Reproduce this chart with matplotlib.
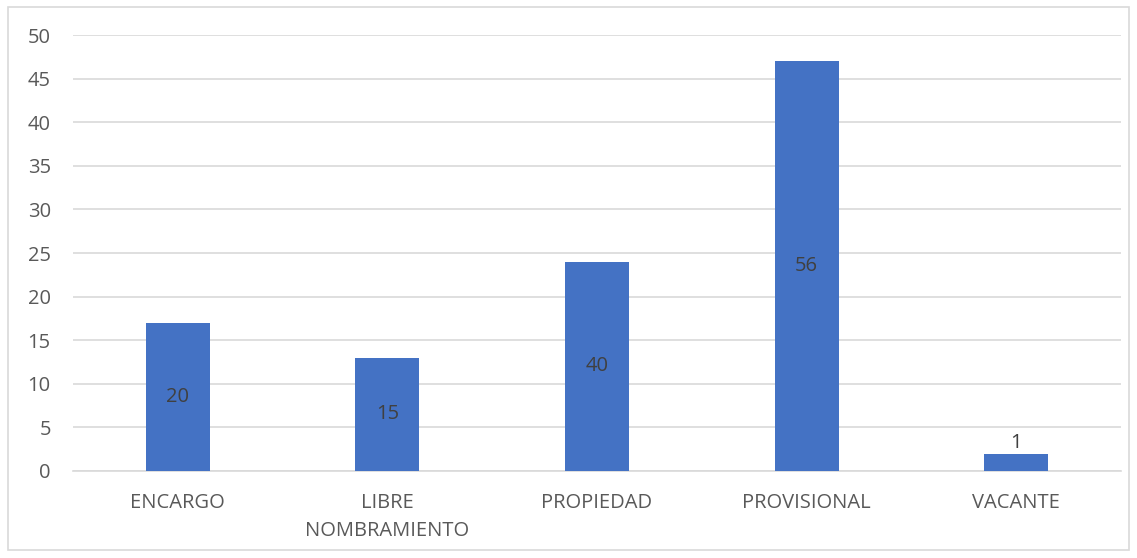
import matplotlib.pyplot as plt
from matplotlib.patches import Rectangle

# data
categorias = ["ENCARGO", "LIBRE\nNOMBRAMIENTO", "PROPIEDAD", "PROVISIONAL", "VACANTE"]
alturas = [17, 13, 24, 47, 2]          # bar heights on the axis
etiquetas = ["20", "15", "40", "56", "1"]  # data labels printed on the bars

plt.rcParams['font.family'] = ['Open Sans', 'DejaVu Sans']
fs = 14.5

fig = plt.figure(figsize=(11.37, 5.58), dpi=100)
ax = fig.add_axes([0.0642, 0.156, 0.9218, 0.781])

x = range(len(categorias))
bars = ax.bar(x, alturas, width=0.305, color="#4472C4", zorder=3)

ax.set_xlim(-0.5, len(categorias) - 0.5)
ax.set_ylim(0, 50)
ax.set_yticks(range(0, 51, 5))
ax.set_xticks(list(x))
ax.set_xticklabels(categorias, fontsize=fs, color="#595959", linespacing=1.5)
ax.tick_params(axis='y', labelsize=fs, labelcolor="#595959", length=0, pad=16)
ax.tick_params(axis='x', length=0, pad=16)

ax.grid(axis='y', color="#d9d9d9", linewidth=1.2, zorder=0)
for s in ["top", "right", "left"]:
    ax.spines[s].set_visible(False)
ax.spines["bottom"].set_color("#d9d9d9")
ax.spines["bottom"].set_linewidth(1.2)

# data labels
for b, t in zip(bars, etiquetas):
    h = b.get_height()
    cx = b.get_x() + b.get_width() / 2
    if h > 5:
        ax.text(cx, h / 2, t, ha='center', va='center', fontsize=fs, color="#404040", zorder=4)
    else:
        ax.text(cx, h + 0.1, t, ha='center', va='bottom', fontsize=fs, color="#404040", zorder=4)

# outer chart border
fig.patches.append(Rectangle((8 / 1137, 1 - 550 / 558), 1121 / 1137, 543 / 558,
                             transform=fig.transFigure, fill=False,
                             edgecolor="#d9d9d9", linewidth=1.2))

fig.savefig("out.png", dpi=100)
